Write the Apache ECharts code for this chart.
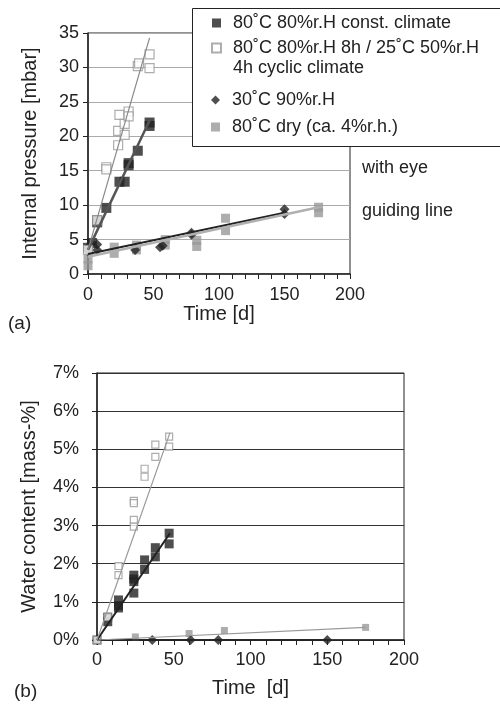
<!DOCTYPE html>
<html>
<head>
<meta charset="utf-8">
<script src="https://cdn.jsdelivr.net/npm/echarts@6/dist/echarts.min.js"></script>
<style>html,body{margin:0;padding:0;background:#fff;}#c{width:500px;height:704px;}</style>
</head>
<body>
<div id="c"></div>
<script>
// ---- names ----
var seriesNames = ['80˚C 80%r.H const. climate', '80˚C 80%r.H 8h / 25˚C 50%r.H 4h cyclic climate', '30˚C 90%r.H', '80˚C dry (ca. 4%r.h.)'];

// ---- (a) internal pressure [mbar] vs time [d] ----
var constDaysA = [0, 3, 7, 7, 14, 24, 28, 31, 31, 38, 47, 47];
var constPressA = [3.8, 4.5, 7.8, 7.5, 9.6, 13.4, 13.4, 16.1, 15.8, 17.9, 21.5, 22.0];
var cyclicDaysA = [0, 7, 14, 14, 23, 23, 24, 28, 28, 31, 31, 38, 39, 47, 47];
var cyclicPressA = [3.5, 7.8, 15.5, 15.2, 18.7, 20.8, 23.1, 21.8, 20.2, 23.6, 22.9, 30.2, 30.6, 31.9, 29.9];
var humidDaysA = [0, 0, 3, 7, 7, 36, 55, 57, 79, 79, 150, 150];
var humidPressA = [3.9, 3.3, 4.5, 3.5, 4.3, 3.5, 3.9, 4.1, 6.0, 5.7, 9.4, 8.7];
var dryDaysA = [0, 0, 20, 20, 37, 37, 59, 59, 83, 83, 105, 105, 176, 176];
var dryPressA = [1.2, 2.2, 3.0, 3.9, 3.5, 4.2, 4.2, 5.0, 4.0, 4.9, 6.3, 8.1, 8.9, 9.7];
// guide lines (a)
var constFitDaysA = [0, 47], constFitA = [3.5, 22.3];
var cyclicFitDaysA = [0, 47], cyclicFitA = [3.5, 34.3];
var humidFitDaysA = [0, 150], humidFitA = [2.9, 8.9];
var dryFitDaysA = [0, 176], dryFitA = [2.5, 9.7];

// ---- (b) water content [mass-%] vs time [d] ----
var constDaysB = [0, 7, 7, 14, 14, 14, 24, 24, 24, 24, 31, 31, 38, 38, 47, 47];
var constWaterB = [0, 0.6, 0.48, 1.05, 0.9, 0.84, 1.7, 1.6, 1.53, 1.23, 2.1, 1.85, 2.42, 2.18, 2.8, 2.52];
var cyclicDaysB = [0, 7, 14, 14, 24, 24, 24, 24, 31, 31, 38, 38, 47, 47];
var cyclicWaterB = [0, 0.6, 1.94, 1.7, 3.65, 3.59, 3.15, 2.97, 4.49, 4.28, 5.12, 4.8, 5.33, 5.07];
var humidDaysB = [0, 36, 61, 79, 150];
var humidWaterB = [0, 0, 0, 0, 0];
var dryDaysB = [0, 25, 60, 83, 175];
var dryWaterB = [0, 0.08, 0.17, 0.25, 0.33];
var constFitDaysB = [0, 47.5], constFitB = [0, 2.8];
var cyclicFitDaysB = [0, 47.5], cyclicFitB = [0, 5.43];
var humidFitDaysB = [0, 150], humidFitB = [0, 0];
var dryFitDaysB = [0, 175], dryFitB = [0, 0.33];

function pairs(xs, ys) { return xs.map(function (x, i) { return [x, ys[i]]; }); }

var FONT = 'Liberation Sans, Arial, Helvetica, sans-serif';
var TXT = '#222';
var chart = echarts.init(document.getElementById('c'), null, { renderer: 'canvas' });

function xAxisCfg(gi, name, nameGap, margin) {
  return {
    type: 'value', gridIndex: gi, min: 0, max: 200, interval: 50,
    name: name, nameLocation: 'middle', nameGap: nameGap,
    nameTextStyle: { fontSize: 20, color: TXT, fontFamily: FONT },
    axisLine: { show: true, lineStyle: { color: '#222', width: 1.5 } },
    axisTick: { show: true, length: 5, lineStyle: { color: '#222' } },
    minorTick: { show: true, splitNumber: 5, length: 5, lineStyle: { color: '#222' } },
    axisLabel: { fontSize: 18, color: TXT, fontFamily: FONT, margin: margin },
    splitLine: { show: false }
  };
}

var option = {
  animation: false,
  backgroundColor: '#fff',
  grid: [
    { left: 88, top: 33, width: 262, height: 241, show: true, borderColor: '#222', borderWidth: 1, backgroundColor: 'transparent' },
    { left: 97, top: 373, width: 307, height: 267, show: true, borderColor: '#222', borderWidth: 1, backgroundColor: 'transparent' }
  ],
  xAxis: [
    xAxisCfg(0, 'Time [d]', 27, 12),
    xAxisCfg(1, 'Time  [d]', 38, 11)
  ],
  yAxis: [
    {
      type: 'value', gridIndex: 0, min: 0, max: 35, interval: 5,
      name: 'Internal pressure [mbar]', nameLocation: 'middle', nameGap: 48,
      nameTextStyle: { fontSize: 20, color: TXT, fontFamily: FONT },
      axisLine: { show: true, lineStyle: { color: '#222', width: 1.5 } },
      axisTick: { show: true, length: 5, lineStyle: { color: '#222' } },
      axisLabel: { fontSize: 18, color: TXT, fontFamily: FONT, margin: 9 },
      splitLine: { show: true, lineStyle: { color: '#aaa', width: 1.2 } }
    },
    {
      type: 'value', gridIndex: 1, min: 0, max: 7, interval: 1,
      name: 'Water content [mass-%]', nameLocation: 'middle', nameGap: 58,
      nameTextStyle: { fontSize: 20, color: TXT, fontFamily: FONT },
      axisLine: { show: true, lineStyle: { color: '#222', width: 1.5 } },
      axisTick: { show: true, length: 5, lineStyle: { color: '#222' } },
      axisLabel: { fontSize: 18, color: TXT, fontFamily: FONT, margin: 18, formatter: '{value}%' },
      splitLine: { show: true, lineStyle: { color: '#333', width: 1.2 } }
    }
  ],
  legend: [
    {
      data: [seriesNames[0], seriesNames[1]], orient: 'vertical', left: 211, top: 14, padding: 0,
      itemWidth: 9, itemHeight: 9, itemGap: 7, z: 60, selectedMode: false,
      formatter: function (n) { return n === seriesNames[1] ? '80˚C 80%r.H 8h / 25˚C 50%r.H' : n; },
      textStyle: { fontSize: 18, color: TXT, fontFamily: FONT, padding: [0, 0, 0, 7] }
    },
    {
      data: [seriesNames[2], seriesNames[3]], orient: 'vertical', left: 211, top: 91, padding: 0,
      itemWidth: 9, itemHeight: 9, itemGap: 9, z: 60, selectedMode: false,
      textStyle: { fontSize: 18, color: TXT, fontFamily: FONT, padding: [0, 0, 0, 7] }
    }
  ],
  graphic: [
    { type: 'rect', left: 192, top: 8, z: 50, shape: { width: 330, height: 138 }, style: { fill: '#fff', stroke: '#222', lineWidth: 1 } },
    { type: 'text', left: 233, top: 59, z: 60, style: { text: '4h cyclic climate', fontSize: 18, fill: TXT, fontFamily: FONT } },
    { type: 'text', left: 362, top: 159, z: 60, style: { text: 'with eye', fontSize: 18, fill: TXT, fontFamily: FONT } },
    { type: 'text', left: 362, top: 202, z: 60, style: { text: 'guiding line', fontSize: 18, fill: TXT, fontFamily: FONT } },
    { type: 'text', left: 8, top: 314, z: 60, style: { text: '(a)', fontSize: 19, fill: TXT, fontFamily: FONT } },
    { type: 'text', left: 14, top: 682, z: 60, style: { text: '(b)', fontSize: 19, fill: TXT, fontFamily: FONT } }
  ],
  series: [
    // (a) markers
    { name: seriesNames[3], type: 'scatter', xAxisIndex: 0, yAxisIndex: 0, symbol: 'rect', symbolSize: 9, itemStyle: { color: '#999' }, data: pairs(dryDaysA, dryPressA), z: 2 },
    { name: seriesNames[2], type: 'scatter', xAxisIndex: 0, yAxisIndex: 0, symbol: 'diamond', symbolSize: 10, itemStyle: { color: '#222' }, data: pairs(humidDaysA, humidPressA), z: 2 },
    { name: seriesNames[0], type: 'scatter', xAxisIndex: 0, yAxisIndex: 0, symbol: 'rect', symbolSize: 10, itemStyle: { color: '#222' }, data: pairs(constDaysA, constPressA), z: 2 },
    { name: seriesNames[1], type: 'scatter', xAxisIndex: 0, yAxisIndex: 0, symbol: 'rect', symbolSize: 9, itemStyle: { color: '#fff', borderColor: '#999', borderWidth: 1.2 }, data: pairs(cyclicDaysA, cyclicPressA), z: 2 },
    // (a) guide lines
    { name: 'fitA1', type: 'line', xAxisIndex: 0, yAxisIndex: 0, symbol: 'none', silent: true, lineStyle: { color: '#222', width: 2 }, data: pairs(humidFitDaysA, humidFitA), z: 3 },
    { name: 'fitA2', type: 'line', xAxisIndex: 0, yAxisIndex: 0, symbol: 'none', silent: true, lineStyle: { color: '#b0b0b0', width: 2.5 }, data: pairs(dryFitDaysA, dryFitA), z: 3 },
    { name: 'fitA3', type: 'line', xAxisIndex: 0, yAxisIndex: 0, symbol: 'none', silent: true, lineStyle: { color: '#555', width: 2.5 }, data: pairs(constFitDaysA, constFitA), z: 3 },
    { name: 'fitA4', type: 'line', xAxisIndex: 0, yAxisIndex: 0, symbol: 'none', silent: true, lineStyle: { color: '#888', width: 1.2 }, data: pairs(cyclicFitDaysA, cyclicFitA), z: 3 },
    // (b) markers
    { name: seriesNames[3], type: 'scatter', xAxisIndex: 1, yAxisIndex: 1, symbol: 'rect', symbolSize: 7, itemStyle: { color: '#999' }, data: pairs(dryDaysB, dryWaterB), z: 2 },
    { name: seriesNames[2], type: 'scatter', xAxisIndex: 1, yAxisIndex: 1, symbol: 'diamond', symbolSize: 10, itemStyle: { color: '#222' }, data: pairs(humidDaysB, humidWaterB), z: 2 },
    { name: seriesNames[0], type: 'scatter', xAxisIndex: 1, yAxisIndex: 1, symbol: 'rect', symbolSize: 9, itemStyle: { color: '#222' }, data: pairs(constDaysB, constWaterB), z: 2 },
    { name: seriesNames[1], type: 'scatter', xAxisIndex: 1, yAxisIndex: 1, symbol: 'rect', symbolSize: 7, itemStyle: { color: '#fff', borderColor: '#999', borderWidth: 1.2 }, data: pairs(cyclicDaysB, cyclicWaterB), z: 2 },
    // (b) guide lines
    { name: 'fitB1', type: 'line', xAxisIndex: 1, yAxisIndex: 1, symbol: 'none', silent: true, lineStyle: { color: '#222', width: 1.5 }, data: pairs(humidFitDaysB, humidFitB), z: 3 },
    { name: 'fitB2', type: 'line', xAxisIndex: 1, yAxisIndex: 1, symbol: 'none', silent: true, lineStyle: { color: '#999', width: 1.2 }, data: pairs(dryFitDaysB, dryFitB), z: 3 },
    { name: 'fitB3', type: 'line', xAxisIndex: 1, yAxisIndex: 1, symbol: 'none', silent: true, lineStyle: { color: '#222', width: 2 }, data: pairs(constFitDaysB, constFitB), z: 3 },
    { name: 'fitB4', type: 'line', xAxisIndex: 1, yAxisIndex: 1, symbol: 'none', silent: true, lineStyle: { color: '#999', width: 1.2 }, data: pairs(cyclicFitDaysB, cyclicFitB), z: 3 }
  ]
};
chart.setOption(option);
</script>
</body>
</html>
